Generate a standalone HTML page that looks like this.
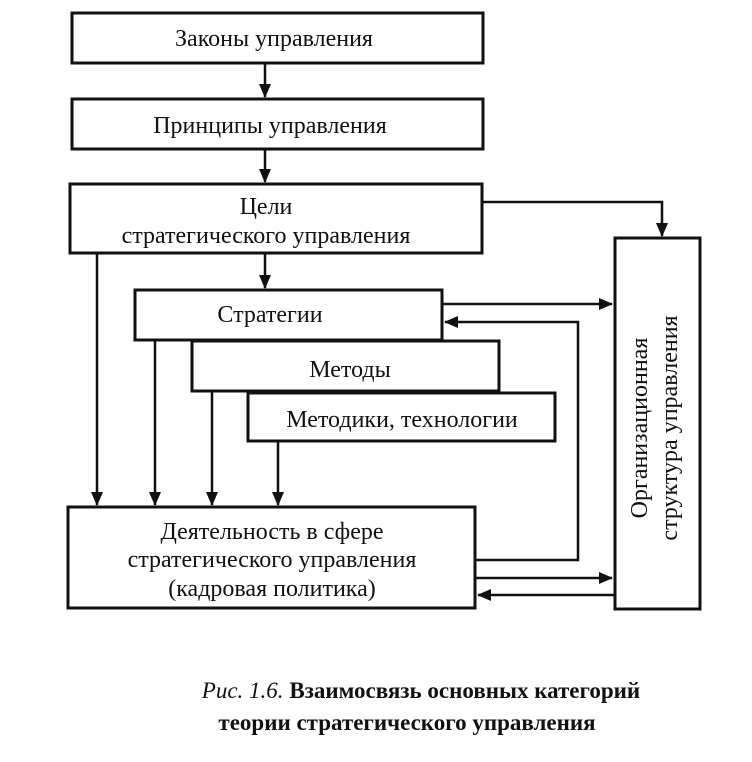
<!DOCTYPE html>
<html><head><meta charset="utf-8"><style>
html,body{margin:0;padding:0;background:#fff;}
svg{display:block;}
text{font-family:"Liberation Serif","Noto Serif CJK SC",serif;fill:#111;}
</style></head><body>
<svg width="752" height="762" viewBox="0 0 752 762" xmlns="http://www.w3.org/2000/svg">
<defs>
<marker id="a" markerWidth="14" markerHeight="14" refX="13" refY="7" orient="auto" markerUnits="userSpaceOnUse">
<path d="M0,1 L14,7 L0,13 z" fill="#111"/>
</marker>
</defs>
<g fill="none" stroke="#111" stroke-width="3">
<rect x="72" y="13" width="411" height="50"/>
<rect x="72" y="99" width="411" height="50"/>
<rect x="70" y="184" width="412" height="69"/>
<rect x="135" y="290" width="307" height="50"/>
<rect x="192" y="341" width="307" height="50"/>
<rect x="248" y="393" width="307" height="48"/>
<rect x="68" y="507" width="407" height="101"/>
<rect x="615" y="238" width="85" height="371"/>
</g>
<g fill="none" stroke="#111" stroke-width="2.5" marker-end="url(#a)">
<path d="M265 63 V97"/>
<path d="M265 149 V182"/>
<path d="M265 253 V288"/>
<path d="M482 202 H662 V236"/>
<path d="M442 304 H612"/>
<path d="M475 560 H578 V322 H445"/>
<path d="M97 253 V505"/>
<path d="M155 340 V505"/>
<path d="M212 391 V505"/>
<path d="M278 441 V505"/>
<path d="M475 578 H612"/>
<path d="M615 595 H478"/>
</g>
<g font-size="24" text-anchor="middle">
<text x="274" y="46">Законы управления</text>
<text x="270" y="133">Принципы управления</text>
<text x="266" y="214">Цели</text>
<text x="266" y="243">стратегического управления</text>
<text x="270" y="322">Стратегии</text>
<text x="350" y="377">Методы</text>
<text x="402" y="427">Методики, технологии</text>
<text x="272" y="539">Деятельность в сфере</text>
<text x="272" y="567">стратегического управления</text>
<text x="272" y="596">(кадровая политика)</text>
<text transform="translate(647,428) rotate(-90)">Организационная</text>
<text transform="translate(677,428) rotate(-90)">структура управления</text>
</g>
<g font-size="23" text-anchor="middle">
<text x="421" y="698"><tspan font-style="italic">Рис. 1.6.</tspan> <tspan font-weight="bold">Взаимосвязь основных категорий</tspan></text>
<text x="407" y="730" font-weight="bold">теории стратегического управления</text>
</g>
</svg>
</body></html>
